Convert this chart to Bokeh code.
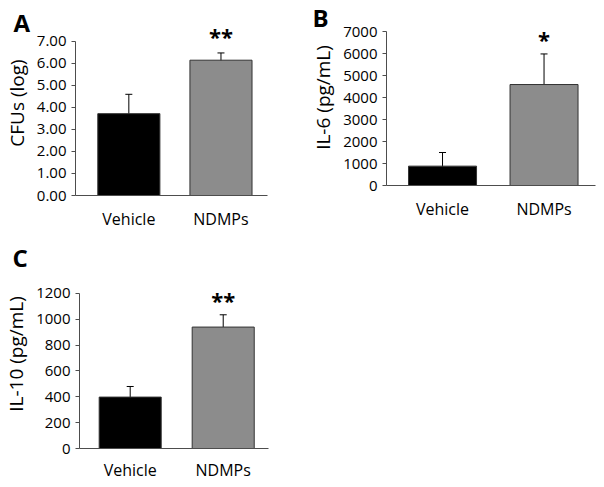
from bokeh.plotting import figure
from bokeh.models import (Range1d, FixedTicker, NumeralTickFormatter, Whisker,
                          TeeHead, ColumnDataSource)
from bokeh.layouts import column, row
from bokeh.embed import file_html
from bokeh.resources import INLINE
from bokeh.core.properties import value

categories = ["Vehicle", "NDMPs"]
bar_colors = ["#000000", "#8c8c8c"]

cfu_mean = [3.72, 6.15]
cfu_lower = [2.84, 5.82]
cfu_upper = [4.60, 6.48]
cfu_sig = ["", "**"]

il6_mean = [880, 4590]
il6_lower = [260, 3200]
il6_upper = [1500, 5980]
il6_sig = ["", "*"]

il10_mean = [398, 940]
il10_lower = [316, 848]
il10_upper = [480, 1035]
il10_sig = ["", "**"]

FONT = "Open Sans"
AXIS = "#4d4d4d"


def panel(ylabel, mean, lower, upper, sig, sig_y, yticks, yfmt, ybound,
          yr, xr, width, height, borders, bar_w, xstand):
    xs = list(range(len(categories)))
    p = figure(width=width, height=height, output_backend="svg",
               toolbar_location=None, x_range=Range1d(*xr),
               y_range=Range1d(*yr),
               min_border_left=borders[0], min_border_right=borders[1],
               min_border_top=borders[2], min_border_bottom=borders[3])
    p.outline_line_color = None
    p.xgrid.visible = False
    p.ygrid.visible = False
    p.background_fill_color = "white"
    p.border_fill_color = "white"

    src = ColumnDataSource(dict(x=xs, top=mean, lower=lower, upper=upper,
                                color=bar_colors, sig=sig,
                                sy=[sig_y] * len(xs)))
    p.vbar(x="x", top="top", width=bar_w, bottom=0, fill_color="color",
           line_color="#333333", line_width=1, source=src)
    w = Whisker(base="x", lower="lower", upper="upper", source=src,
                line_color="#000000", line_width=1,
                upper_head=TeeHead(size=7, line_color="#000000", line_width=1),
                lower_head=TeeHead(size=7, line_color="#000000", line_width=1))
    p.add_layout(w)
    p.text(x="x", y="sy", text="sig", source=src, text_align="center",
           text_baseline="middle", text_font=value(FONT),
           text_font_style="bold", text_font_size="22px", text_color="#000000")

    ax = p.xaxis[0]
    ax.ticker = FixedTicker(ticks=xs)
    ax.major_label_overrides = {i: c for i, c in enumerate(categories)}
    ax.major_tick_line_color = None
    ax.major_tick_in = 0
    ax.major_tick_out = 0
    ax.minor_tick_line_color = None
    ax.minor_tick_in = 0
    ax.minor_tick_out = 0
    ax.axis_line_color = AXIS
    ax.major_label_text_font = FONT
    ax.major_label_text_font_size = "16px"
    ax.major_label_text_color = "#000000"
    ax.major_label_standoff = xstand

    ay = p.yaxis[0]
    ay.ticker = FixedTicker(ticks=yticks)
    ay.formatter = NumeralTickFormatter(format=yfmt)
    ay.bounds = (0, ybound)
    ay.minor_tick_line_color = None
    ay.major_tick_in = 0
    ay.major_tick_out = 4
    ay.major_tick_line_color = AXIS
    ay.axis_line_color = AXIS
    ay.major_label_text_font = FONT
    ay.major_label_text_font_size = "15px"
    ay.major_label_text_color = "#000000"
    ay.major_label_standoff = 5
    ay.axis_label = ylabel
    ay.axis_label_text_font = FONT
    ay.axis_label_text_font_size = "19px"
    ay.axis_label_text_font_style = "normal"
    ay.axis_label_text_color = "#000000"
    ay.axis_label_standoff = 4
    return p


def set_letter(p, letter, offset, standoff):
    p.title.text = letter
    p.title.align = "left"
    p.title.offset = offset
    p.title.standoff = standoff
    p.title.text_font = FONT
    p.title.text_font_style = "bold"
    p.title.text_font_size = "24px"
    p.title.text_color = "#000000"


pA = panel("CFUs (log)", cfu_mean, cfu_lower, cfu_upper, cfu_sig, 7.23,
           [0, 1, 2, 3, 4, 5, 6, 7], "0.00", 7, (0, 8.409), (-0.579, 1.505),
           294, 239, (69, 27, 10, 44), 0.674, 12)
set_letter(pA, "A", -62, -56)

pB = panel("IL-6 (pg/mL)", il6_mean, il6_lower, il6_upper, il6_sig, 6680,
           [0, 1000, 2000, 3000, 4000, 5000, 6000, 7000], "0", 7000,
           (0, 8000), (-0.552, 1.507), 306, 239, (92, 5, 9, 54), 0.67, 12)
set_letter(pB, "B", -74, -49)

pC = panel("IL-10 (pg/mL)", il10_mean, il10_lower, il10_upper, il10_sig,
           1146, [0, 200, 400, 600, 800, 1000, 1200], "0", 1200, (0, 1463),
           (-0.545, 1.487), 294, 246, (76, 26, 20, 37), 0.667, 10)
set_letter(pC, "C", -67, -29)

layout = column(row(pA, column(pB), spacing=0), pC, spacing=0)

with open("out.html", "w") as f:
    f.write(file_html(layout, INLINE))
